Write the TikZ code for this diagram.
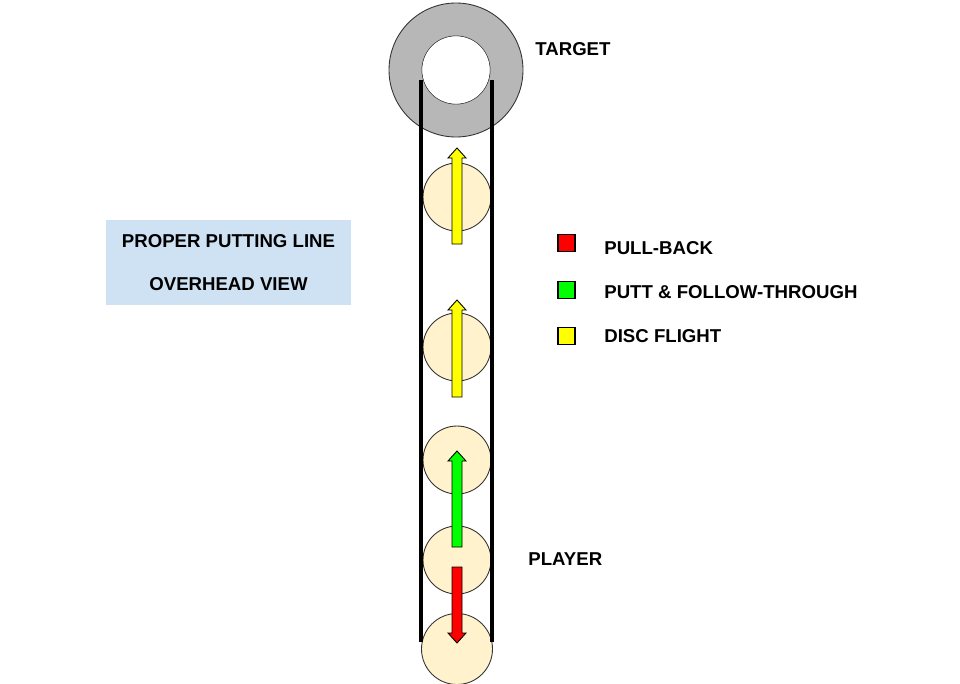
\documentclass[tikz,border=0pt]{standalone}
\usepackage{fontspec}
\setmainfont{Liberation Sans}
\usetikzlibrary{positioning}

\definecolor{ringgray}{HTML}{B7B7B7}
\definecolor{discfill}{HTML}{FFF2CC}
\definecolor{boxblue}{HTML}{CFE2F3}
\definecolor{pullred}{HTML}{FF0000}
\definecolor{puttgreen}{HTML}{00FF00}
\definecolor{flightyellow}{HTML}{FFFF00}

\tikzset{
  disc/.style={circle, draw=black!80, line width=0.5pt, fill=discfill, minimum size=1.36cm, inner sep=0pt},
  label text/.style={font=\bfseries\fontsize{10.6}{12}\selectfont, inner sep=0pt},
  legend box/.style={draw, line width=0.6pt, minimum size=0.34cm, inner sep=0pt},
  rail/.style={line width=2.2pt}
}

% block arrow: x, tail y, tip y, colour (pixel units, y down)
\newcommand{\blockarrow}[4]{%
  \pgfmathsetmacro{\dir}{(#3 < #2) ? 1 : -1}%
  \filldraw[draw=black, line width=0.5pt, fill=#4]
    (#1-5,#2) -- (#1-5,#3+\dir*10) -- (#1-9,#3+\dir*10) -- (#1,#3)
    -- (#1+9,#3+\dir*10) -- (#1+5,#3+\dir*10) -- (#1+5,#2) -- cycle;}

\begin{document}
\begin{tikzpicture}[x=0.02cm, y=-0.02cm]
\useasboundingbox (0,0) rectangle (960,683);

% target ring
\filldraw[draw=black!80, line width=0.5pt, fill=ringgray, even odd rule]
  (456,70) circle (67) (456,70) circle (34);
\fill[white] (456,70) circle (33.7);
\node[label text, anchor=west] (target) at (535,49) {TARGET};

% discs
\node[disc] (disc1) at (457,197) {};
\node[disc] (disc2) at (457,347) {};
\node[disc] (disc3) at (457,460) {};
\node[disc] (disc4) at (457,560) {};
\node[disc, minimum size=1.42cm] (disc5) at (457,649) {};

% putting line
\coordinate (railLtop) at (421,80);
\coordinate (railLbot) at (421,642);
\coordinate (railRtop) at (492,80);
\coordinate (railRbot) at (492,642);
\draw[rail] (railLtop) -- (railLbot);
\draw[rail] (railRtop) -- (railRbot);

% motion arrows
\blockarrow{457}{244}{148}{flightyellow}
\blockarrow{457}{397}{300}{flightyellow}
\blockarrow{457}{547}{451}{puttgreen}
\blockarrow{457}{567}{643}{pullred}

\node[label text, anchor=west] (player) at (528,559) {PLAYER};

% title box
\node[fill=boxblue, minimum width=4.9cm, minimum height=1.7cm, inner sep=0pt] (titlebox) at (228.5,262.5) {};
\node[label text] (title1) at (228.5,241) {PROPER PUTTING LINE};
\node[label text] (title2) at (228.5,284) {OVERHEAD VIEW};

% legend
\node[legend box, fill=pullred] (keyred) at (566.5,243) {};
\node[legend box, fill=puttgreen] (keygreen) at (566.5,290) {};
\node[legend box, fill=flightyellow] (keyyellow) at (566.5,336) {};
\node[label text, anchor=west] (pullback) at (604,248) {PULL-BACK};
\node[label text, anchor=west] (putt) at (604,292) {PUTT \& FOLLOW-THROUGH};
\node[label text, anchor=west] (flight) at (604,336) {DISC FLIGHT};
\end{tikzpicture}
\end{document}
